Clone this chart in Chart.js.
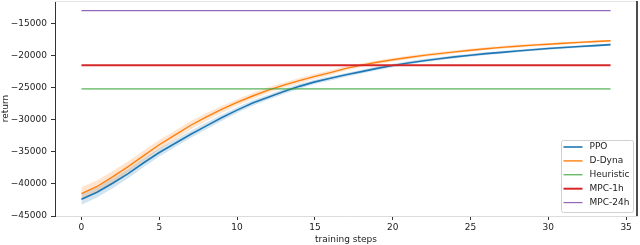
<!DOCTYPE html>
<html>
<head>
<meta charset="utf-8">
<script src="https://cdn.jsdelivr.net/npm/chart.js@4.4.0/dist/chart.umd.min.js"></script>
<style>
  html, body { margin: 0; padding: 0; background: #fff; }
  #caixa { width: 640px; height: 245px; }
</style>
</head>
<body>
<div id="caixa"><canvas id="graficoRetorno"></canvas></div>
<script>
// dados
const passos = [0, 1, 2, 3, 4, 5, 6, 7, 8, 9, 10, 11, 12, 13, 14, 15, 16, 17,
  18, 19, 20, 21, 22, 23, 24, 25, 26, 27, 28, 29, 30, 31, 32, 33, 34];

const ppoRetorno = [-42400, -41300, -39900, -38400, -36700, -35100, -33700, -32300,
  -31000, -29700, -28500, -27400, -26500, -25600, -24800, -24100, -23550, -23000,
  -22500, -22000, -21550, -21150, -20800, -20500, -20200, -19950, -19700, -19500,
  -19300, -19100, -18900, -18750, -18600, -18450, -18300];
const ppoDesvio = [850, 800, 760, 720, 680, 640, 600, 560, 520, 480, 450, 420, 400,
  380, 360, 340, 320, 300, 290, 280, 270, 260, 250, 240, 230, 220, 210, 200, 200,
  190, 190, 180, 180, 170, 170];

const dynaRetorno = [-41500, -40400, -38900, -37300, -35600, -33900, -32400, -30900,
  -29600, -28400, -27300, -26300, -25400, -24600, -23900, -23250, -22650, -22000,
  -21500, -21050, -20650, -20300, -19980, -19700, -19420, -19170, -18930, -18730,
  -18540, -18380, -18230, -18090, -17950, -17820, -17700];
const dynaDesvio = [1000, 950, 900, 850, 800, 750, 700, 650, 600, 550, 500, 480, 450,
  420, 400, 380, 350, 330, 300, 290, 280, 270, 260, 250, 240, 230, 220, 210, 210,
  200, 200, 190, 190, 180, 180];

const nivelHeuristic = -25200;
const nivelMpc1h = -21500;
const nivelMpc24h = -13000;

const ticksX = [0, 5, 10, 15, 20, 25, 30, 35];
const ticksY = [-45000, -40000, -35000, -30000, -25000, -20000, -15000];

const fonte = { family: "DejaVu Sans", size: 9 };
const corTexto = "#222";

function pontos(valores) {
  return passos.map((p, i) => ({ x: p, y: valores[i] }));
}
function linhaHorizontal(nivel) {
  return [{ x: passos[0], y: nivel }, { x: passos[passos.length - 1], y: nivel }];
}

const ppoBaixo = ppoRetorno.map((v, i) => v - ppoDesvio[i]);
const ppoAlto = ppoRetorno.map((v, i) => v + ppoDesvio[i]);
const dynaBaixo = dynaRetorno.map((v, i) => v - dynaDesvio[i]);
const dynaAlto = dynaRetorno.map((v, i) => v + dynaDesvio[i]);

// legenda no canto inferior direito, como no matplotlib
const legendaCanto = {
  id: "legendaCanto",
  afterDraw(chart) {
    const ctx = chart.ctx;
    const area = chart.chartArea;
    const itens = chart.data.datasets.filter((d) => d.legenda);
    const largura = 72, altura = 72;
    const x0 = area.right - 4 - largura;
    const y0 = area.bottom - 4 - altura;
    ctx.save();
    ctx.beginPath();
    ctx.roundRect(x0 + 0.5, y0 + 0.5, largura, altura, 2);
    ctx.fillStyle = "rgba(255,255,255,0.8)";
    ctx.fill();
    ctx.strokeStyle = "#d0d0d0";
    ctx.lineWidth = 1;
    ctx.stroke();
    ctx.font = "9px 'DejaVu Sans'";
    ctx.textBaseline = "middle";
    ctx.fillStyle = corTexto;
    itens.forEach((d, i) => {
      const y = y0 + 7 + i * 13.9;
      ctx.beginPath();
      ctx.strokeStyle = d.borderColor;
      ctx.lineWidth = d.borderWidth;
      ctx.moveTo(x0 + 2.5, y);
      ctx.lineTo(x0 + 21.5, y);
      ctx.stroke();
      ctx.fillText(d.label, x0 + 28.5, y);
    });
    ctx.restore();
  },
};

// moldura superior clara e lateral direita escura
const moldura = {
  id: "moldura",
  afterDatasetsDraw(chart) {
    const ctx = chart.ctx;
    const a = chart.chartArea;
    ctx.save();
    ctx.strokeStyle = "#e6e6e6";
    ctx.lineWidth = 1;
    ctx.beginPath();
    ctx.moveTo(a.left, a.top + 0.5);
    ctx.lineTo(a.right, a.top + 0.5);
    ctx.stroke();
    ctx.strokeStyle = "#111";
    ctx.lineWidth = 1.5;
    ctx.beginPath();
    ctx.moveTo(a.right, a.top);
    ctx.lineTo(a.right, a.bottom);
    ctx.stroke();
    ctx.restore();
  },
};

const graficoRetorno = new Chart(document.getElementById("graficoRetorno"), {
  type: "line",
  data: {
    datasets: [
      { label: "PPO", legenda: true, data: pontos(ppoRetorno), borderColor: "#1f77b4",
        borderWidth: 1.6, order: 5 },
      { label: "D-Dyna", legenda: true, data: pontos(dynaRetorno), borderColor: "#ff7f0e",
        borderWidth: 1.4, order: 4 },
      { label: "Heuristic", legenda: true, data: linhaHorizontal(nivelHeuristic),
        borderColor: "#2ca02c", borderWidth: 1, order: 3 },
      { label: "MPC-1h", legenda: true, data: linhaHorizontal(nivelMpc1h),
        borderColor: "#d62728", borderWidth: 2, order: 2 },
      { label: "MPC-24h", legenda: true, data: linhaHorizontal(nivelMpc24h),
        borderColor: "#9467bd", borderWidth: 1.2, order: 1 },
      { label: "ppo-baixo", data: pontos(ppoBaixo), borderWidth: 0, fill: false, order: 9 },
      { label: "ppo-alto", data: pontos(ppoAlto), borderWidth: 0, fill: "-1",
        backgroundColor: "rgba(31,119,180,0.2)", order: 8 },
      { label: "dyna-baixo", data: pontos(dynaBaixo), borderWidth: 0, fill: false, order: 7 },
      { label: "dyna-alto", data: pontos(dynaAlto), borderWidth: 0, fill: "-1",
        backgroundColor: "rgba(255,127,14,0.2)", order: 6 },
    ],
  },
  options: {
    responsive: true,
    maintainAspectRatio: false,
    animation: false,
    devicePixelRatio: 1,
    layout: { padding: { top: 1, right: 3, left: 0, bottom: 0 } },
    elements: { point: { radius: 0 }, line: { tension: 0 } },
    plugins: { legend: { display: false }, tooltip: { enabled: false } },
    scales: {
      x: {
        type: "linear",
        min: -1.7,
        max: 35.7,
        afterBuildTicks: (s) => { s.ticks = ticksX.map((v) => ({ value: v })); },
        afterFit: (s) => { s.height = 29; s.paddingLeft = 0; s.paddingRight = 0; },
        ticks: { font: fonte, color: corTexto, padding: 2, maxRotation: 0, autoSkip: false },
        grid: { display: true, drawOnChartArea: false, drawTicks: true, tickLength: 4,
          tickColor: "#333" },
        border: { color: "#dcdcdc" },
        title: { display: true, text: "training steps", font: fonte, color: corTexto,
          padding: { top: 0, bottom: 0 } },
      },
      y: {
        min: -45000,
        max: -11500,
        afterBuildTicks: (s) => { s.ticks = ticksY.map((v) => ({ value: v })); },
        afterFit: (s) => { s.width = 55; s.paddingTop = 0; s.paddingBottom = 0; },
        ticks: {
          font: fonte, color: corTexto, padding: 4,
          callback: (v) => (v < 0 ? "\u2212" : "") + Math.abs(v),
        },
        grid: { display: true, drawOnChartArea: false, drawTicks: true, tickLength: 4,
          tickColor: "#333" },
        border: { color: "#333" },
        title: { display: true, text: "return", font: fonte, color: corTexto,
          padding: { top: 0, bottom: 0 } },
      },
    },
  },
  plugins: [moldura, legendaCanto],
});
</script>
</body>
</html>
